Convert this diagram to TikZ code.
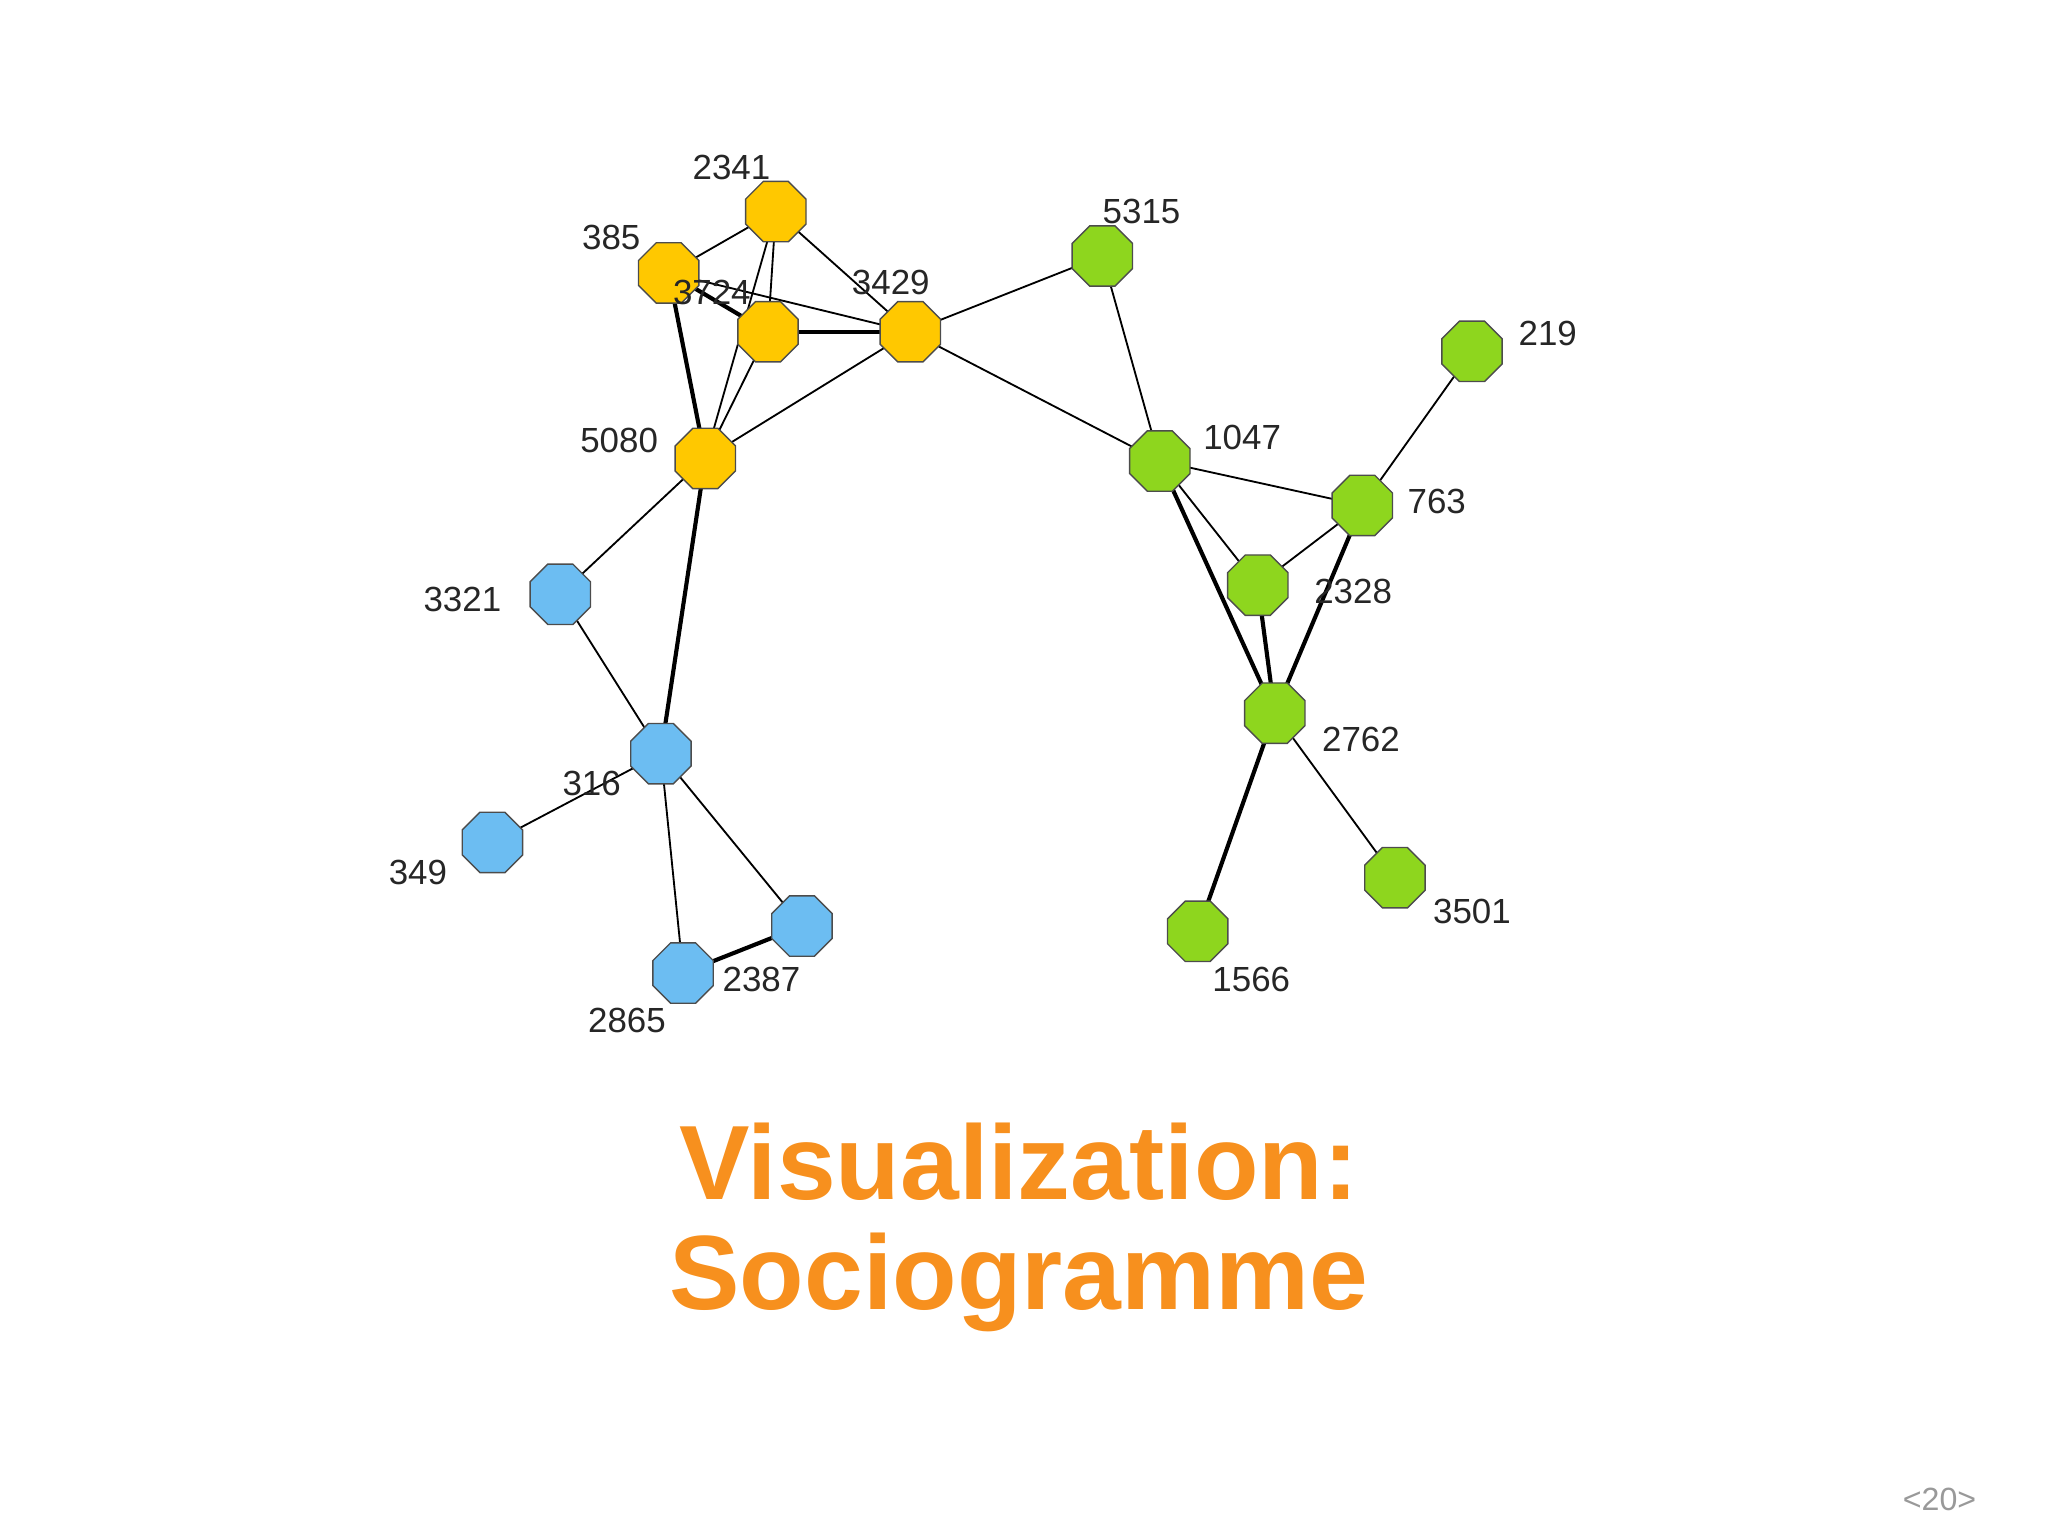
\documentclass[tikz,border=0pt]{standalone}
\usepackage{fontspec}
\setmainfont{Liberation Sans}
\usetikzlibrary{shapes.geometric}
\definecolor{yel}{HTML}{FFC800}
\definecolor{grn}{HTML}{8ED61E}
\definecolor{blu}{HTML}{6CBDF2}
\definecolor{org}{HTML}{F7901E}
\begin{document}
\begin{tikzpicture}[x=0.01cm,y=-0.01cm,
  v/.style={regular polygon,regular polygon sides=8,minimum size=0.5cm,inner sep=0pt,draw=black!70,line width=0.3pt},
  lab/.style={font=\fontsize{7.6pt}{8pt}\selectfont,text=black!85},
  e/.style={line width=0.4pt},
  ee/.style={line width=0.9pt}]
\useasboundingbox (0,0) rectangle (1568,1176);
\begin{scope}[on background layer/.style={}]
\coordinate (p2341) at (594,162); \coordinate (p385) at (512,209);
\coordinate (p3724) at (588,254); \coordinate (p3429) at (697,254);
\coordinate (p5080) at (540,351); \coordinate (p5315) at (844,196);
\coordinate (p219) at (1127,269); \coordinate (p1047) at (888,353);
\coordinate (p763) at (1043,387); \coordinate (p2328) at (963,448);
\coordinate (p2762) at (976,546); \coordinate (p3501) at (1068,672);
\coordinate (p1566) at (917,713); \coordinate (p3321) at (429,455);
\coordinate (p316) at (506,577); \coordinate (p349) at (377,645);
\coordinate (p2387) at (614,709); \coordinate (p2865) at (523,745);
\end{scope}
% edges
\draw[e] (p385)--(p2341); \draw[ee] (p385)--(p3724); \draw[e] (p385)--(p3429);
\draw[ee] (p385)--(p5080); \draw[e] (p2341)--(p3724); \draw[e] (p2341)--(p5080);
\draw[e] (p2341)--(p3429); \draw[ee] (p3724)--(p3429); \draw[e] (p3724)--(p5080);
\draw[e] (p5080)--(p3429); \draw[e] (p3429)--(p5315); \draw[e] (p3429)--(p1047);
\draw[e] (p5315)--(p1047); \draw[e] (p219)--(p763); \draw[e] (p1047)--(p763);
\draw[e] (p1047)--(p2328); \draw[ee] (p1047)--(p2762); \draw[e] (p763)--(p2328);
\draw[ee] (p763)--(p2762); \draw[ee] (p2328)--(p2762); \draw[e] (p2762)--(p3501);
\draw[ee] (p2762)--(p1566); \draw[e] (p5080)--(p3321); \draw[ee] (p5080)--(p316);
\draw[e] (p3321)--(p316); \draw[e] (p316)--(p349); \draw[e] (p316)--(p2387);
\draw[e] (p316)--(p2865); \draw[ee] (p2865)--(p2387);
% nodes
\foreach \n in {2341,385,3724,3429,5080} \node[v,fill=yel] (n\n) at (p\n) {};
\foreach \n in {5315,219,1047,763,2328,2762,3501,1566} \node[v,fill=grn] (n\n) at (p\n) {};
\foreach \n in {3321,316,349,2387,2865} \node[v,fill=blu] (n\n) at (p\n) {};
% labels
\node[lab] (l2341) at (560,128) {2341};
\node[lab] (l385) at (468,182) {385};
\node[lab] (l3724) at (545,224) {3724};
\node[lab] (l3429) at (682,216) {3429};
\node[lab] (l5080) at (474,337) {5080};
\node[lab] (l5315) at (874,162) {5315};
\node[lab] (l219) at (1185,255) {219};
\node[lab] (l1047) at (951,335) {1047};
\node[lab] (l763) at (1100,384) {763};
\node[lab] (l2328) at (1036,453) {2328};
\node[lab] (l2762) at (1042,566) {2762};
\node[lab] (l3501) at (1127,698) {3501};
\node[lab] (l1566) at (958,750) {1566};
\node[lab] (l3321) at (354,459) {3321};
\node[lab] (l316) at (453,600) {316};
\node[lab] (l349) at (320,668) {349};
\node[lab] (l2387) at (583,750) {2387};
\node[lab] (l2865) at (480,781) {2865};
\node[font=\bfseries\fontsize{23pt}{24pt}\selectfont,text=org,align=center] (title) at (780,940) {Visualization:\\Sociogramme};
\node[font=\fontsize{7pt}{8pt}\selectfont,text=black!40] (pg) at (1485,1148) {<20>};
\end{tikzpicture}
\end{document}
